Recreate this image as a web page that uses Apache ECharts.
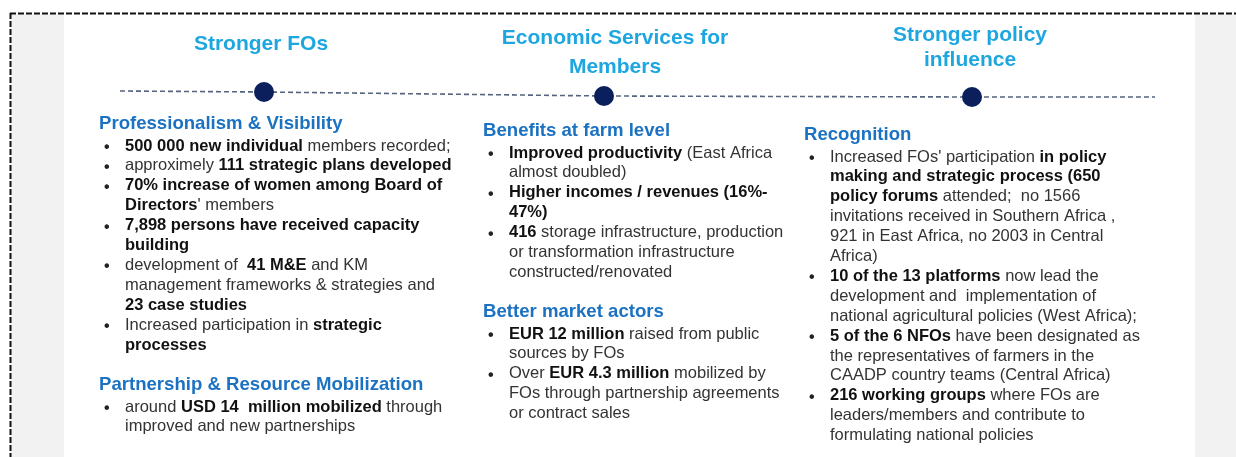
<!DOCTYPE html>
<html>
<head>
<meta charset="utf-8">
<script src="https://cdn.jsdelivr.net/npm/echarts@6/dist/echarts.min.js"></script>
<style>
  html, body { margin: 0; padding: 0; background: #fff; }
  #chart { width: 1236px; height: 457px; }
</style>
</head>
<body>
<div id="chart"></div>
<script>
// timeline stages (x position along the timeline, y of the dot)
const stageTitles = [
  ['Stronger FOs'],
  ['Economic Services for', 'Members'],
  ['Stronger policy', 'influence']
];
const stagePoints = [[264, 92], [604, 96], [972, 97]];
const timelineEnds = [[120, 91], [1155, 97]];

// bullet texts, ** marks bold parts
const colOneHeadA = 'Professionalism & Visibility';
const colOneItemsA = [
  ['**500 000 new individual** members recorded;'],
  ['approximely **111 strategic plans developed**'],
  ['**70% increase of women among Board of**', '**Directors**\' members'],
  ['**7,898 persons have received capacity**', '**building**'],
  ['development of  **41 M&E** and KM', 'management frameworks & strategies and', '**23 case studies**'],
  ['Increased participation in **strategic**', '**processes**']
];
const colOneHeadB = 'Partnership & Resource Mobilization';
const colOneItemsB = [
  ['around **USD 14  million mobilized** through', 'improved and new partnerships']
];

const colTwoHeadA = 'Benefits at farm level';
const colTwoItemsA = [
  ['**Improved productivity** (East Africa', 'almost doubled)'],
  ['**Higher incomes / revenues (16%-**', '**47%)**'],
  ['**416** storage infrastructure, production', 'or transformation infrastructure', 'constructed/renovated']
];
const colTwoHeadB = 'Better market actors';
const colTwoItemsB = [
  ['**EUR 12 million** raised from public', 'sources by FOs'],
  ['Over **EUR 4.3 million** mobilized by', 'FOs through partnership agreements', 'or contract sales']
];

const colThreeHead = 'Recognition';
const colThreeItems = [
  ['Increased FOs\' participation **in policy**', '**making and strategic process (650**', '**policy forums** attended;  no 1566',
   'invitations received in Southern Africa ,', '921 in East Africa, no 2003 in Central', 'Africa)'],
  ['**10 of the 13 platforms** now lead the', 'development and  implementation of', 'national agricultural policies (West Africa);'],
  ['**5 of the 6 NFOs** have been designated as', 'the representatives of farmers in the', 'CAADP country teams (Central Africa)'],
  ['**216 working groups** where FOs are', 'leaders/members and contribute to', 'formulating national policies']
];

const FONT = '"Liberation Sans", Arial, sans-serif';
const LINE_H = 19.9;

function toRich(s) {
  const parts = s.split('**');
  let out = '';
  parts.forEach((p, i) => {
    if (!p) return;
    out += '{' + (i % 2 ? 'b' : 'r') + '|' + p + '}';
  });
  return out;
}

const graphics = [];

// page backgrounds
graphics.push({ type: 'rect', shape: { x: 11, y: 14, width: 53, height: 450 }, style: { fill: '#f2f2f2' }, silent: true });
graphics.push({ type: 'rect', shape: { x: 1195, y: 14, width: 45, height: 450 }, style: { fill: '#f2f2f2' }, silent: true });
// outer dashed frame
graphics.push({ type: 'line', shape: { x1: 10, y1: 13.5, x2: 1236, y2: 13.5 }, style: { stroke: '#111', lineWidth: 2, lineDash: [6, 2] }, silent: true });
graphics.push({ type: 'line', shape: { x1: 10.5, y1: 13, x2: 10.5, y2: 457 }, style: { stroke: '#111', lineWidth: 2, lineDash: [6, 2] }, silent: true });

// stage titles
const titleY = [[44], [38, 67], [35, 60]];
const titleX = [261, 615, 970];
stageTitles.forEach((lines, i) => {
  lines.forEach((t, j) => {
    graphics.push({
      type: 'text', x: titleX[i], y: titleY[i][j],
      style: { text: t, font: 'bold 21px ' + FONT, fill: '#1ea6e0', align: 'center', verticalAlign: 'middle' }
    });
  });
});

function addBlock(x, headY, head, items) {
  graphics.push({
    type: 'text', x: x, y: headY,
    style: { text: head, font: 'bold 18.6px ' + FONT, fill: '#1c72c2', verticalAlign: 'middle' }
  });
  let y = headY + 21;
  items.forEach(lines => {
    graphics.push({
      type: 'text', x: x + 5, y: y + 2.5,
      style: { text: '•', font: 'bold 16px ' + FONT, fill: '#222', verticalAlign: 'middle' }
    });
    lines.forEach(l => {
      graphics.push({
        type: 'text', x: x + 26, y: y + 1,
        style: {
          text: toRich(l), verticalAlign: 'middle',
          rich: {
            r: { font: '16.5px ' + FONT, fill: '#333', verticalAlign: 'middle' },
            b: { font: 'bold 16.5px ' + FONT, fill: '#111', verticalAlign: 'middle' }
          }
        }
      });
      y += LINE_H;
    });
  });
  return y;
}

addBlock(99, 124, colOneHeadA, colOneItemsA);
addBlock(99, 385, colOneHeadB, colOneItemsB);
addBlock(483, 131, colTwoHeadA, colTwoItemsA);
addBlock(483, 312, colTwoHeadB, colTwoItemsB);
addBlock(804, 135, colThreeHead, colThreeItems);

const chart = echarts.init(document.getElementById('chart'));
chart.setOption({
  animation: false,
  backgroundColor: '#fff',
  grid: { left: 0, right: 0, top: 0, bottom: 0 },
  xAxis: { type: 'value', min: 0, max: 1236, show: false },
  yAxis: { type: 'value', min: 0, max: 457, inverse: true, show: false },
  graphic: graphics,
  series: [
    {
      type: 'line',
      data: [timelineEnds[0]].concat(stagePoints, [timelineEnds[1]]),
      symbol: 'none',
      lineStyle: { color: '#55637f', width: 1.6, type: [5, 3] },
      z: 3
    },
    {
      type: 'scatter',
      data: stagePoints,
      symbolSize: 20,
      itemStyle: { color: '#0a1f5c', opacity: 1 },
      z: 4
    }
  ]
});
</script>
</body>
</html>
